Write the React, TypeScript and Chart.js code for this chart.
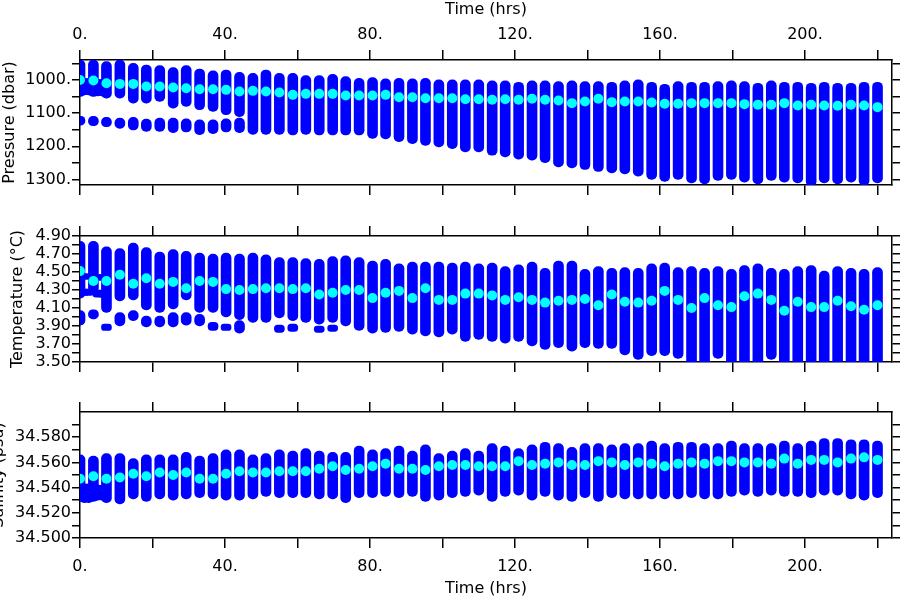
import React, { useEffect, useRef } from "react";
import { Chart, registerables } from "chart.js";

Chart.register(...registerables);

const FONT = "'DejaVu Sans', sans-serif";
const BLUE = "#0000ff";
const CYAN = "#00ffff";

// ---- time axis (hours) ----
const times = [
  0, 3.7, 7.3, 11, 14.7, 18.3, 22, 25.7, 29.3, 33,
  36.7, 40.3, 44, 47.7, 51.3, 55, 58.7, 62.3, 66, 69.7,
  73.3, 77, 80.7, 84.3, 88, 91.7, 95.3, 99, 102.7, 106.3,
  110, 113.7, 117.3, 121, 124.7, 128.3, 132, 135.7, 139.3, 143,
  146.7, 150.3, 154, 157.7, 161.3, 165, 168.7, 172.3, 176, 179.7,
  183.3, 187, 190.7, 194.3, 198, 201.7, 205.3, 209, 212.7, 216.3, 220,
];
const earlyTimes = [1.2, 2.4, 4.9, 6.1];
const timeTicks = [0, 20, 40, 60, 80, 100, 120, 140, 160, 180, 200, 220];
const timeLabels = [0, 40, 80, 120, 160, 200];

// ---- pressure (dbar) ----
const pressureShallow = [
  940, 940, 945, 940, 950, 955, 957, 963, 957, 967,
  973, 970, 977, 980, 970, 980, 980, 987, 987, 983,
  990, 995, 993, 997, 995, 997, 995, 1000, 1000, 1000,
  1000, 1003, 1003, 1007, 1003, 1003, 1005, 1003, 1005, 1005,
  1007, 1003, 1000, 1007, 1013, 1005, 1007, 1007, 1005, 1003,
  1005, 1010, 1003, 1007, 1007, 1010, 1007, 1010, 1010, 1007, 1007,
];
const pressureDeep = [
  1050, 1050, 1055, 1055, 1070, 1070, 1065, 1085, 1080, 1090,
  1095, 1105, 1111, 1164, 1164, 1164, 1166, 1164, 1166, 1166,
  1166, 1166, 1176, 1178, 1186, 1192, 1197, 1202, 1207, 1217,
  1217, 1227, 1232, 1239, 1242, 1249, 1262, 1265, 1270, 1276,
  1280, 1283, 1290, 1300, 1306, 1300, 1310, 1313, 1303, 1300,
  1308, 1313, 1303, 1308, 1310, 1320, 1310, 1313, 1308, 1318, 1310,
];
const pressureMean = [
  1000, 1002, 1010, 1012, 1012, 1020, 1020, 1023, 1025, 1028,
  1028, 1030, 1035, 1033, 1035, 1038, 1045, 1042, 1042, 1042,
  1047, 1047, 1047, 1045, 1052, 1052, 1055, 1055, 1055, 1058,
  1058, 1060, 1058, 1060, 1057, 1060, 1062, 1070, 1065, 1057,
  1067, 1065, 1065, 1068, 1072, 1072, 1070, 1070, 1070, 1070,
  1073, 1075, 1075, 1070, 1077, 1075, 1077, 1078, 1075, 1077, 1082,
];
// isolated deep samples of the first profiles
const pressureGapShallow = [1110, 1110, 1113, 1115, 1113, 1118, 1115, 1115, 1117, 1120, 1120, 1117, 1115];
const pressureGapDeep = [1136, 1138, 1141, 1146, 1151, 1155, 1155, 1159, 1157, 1165, 1162, 1157, 1159];
const pressureEarlyLow = [995, 995, 998, 998];
const pressureEarlyHigh = [1045, 1045, 1048, 1048];
const pressureTicks = [950, 1000, 1050, 1100, 1150, 1200, 1250, 1300];
const pressureLabels = [1000, 1100, 1200, 1300];

// ---- temperature (°C) ----
const tempMax = [
  4.84, 4.84, 4.78, 4.76, 4.82, 4.77, 4.72, 4.75, 4.73, 4.71,
  4.70, 4.71, 4.70, 4.71, 4.69, 4.66, 4.66, 4.65, 4.64, 4.67,
  4.68, 4.66, 4.62, 4.64, 4.59, 4.61, 4.61, 4.61, 4.60, 4.61,
  4.59, 4.60, 4.56, 4.58, 4.61, 4.54, 4.62, 4.62, 4.53, 4.56,
  4.54, 4.55, 4.54, 4.59, 4.60, 4.55, 4.56, 4.54, 4.56, 4.53,
  4.57, 4.59, 4.54, 4.53, 4.56, 4.57, 4.51, 4.56, 4.54, 4.53, 4.55,
];
const tempMin = [
  4.21, 4.27, 4.05, 4.18, 4.19, 4.08, 4.05, 4.09, 4.19, 4.05,
  4.05, 4.00, 3.97, 3.94, 3.94, 3.99, 3.96, 3.94, 3.92, 3.94,
  3.90, 3.85, 3.82, 3.83, 3.84, 3.81, 3.79, 3.78, 3.81, 3.73,
  3.75, 3.73, 3.71, 3.73, 3.68, 3.64, 3.66, 3.62, 3.66, 3.65,
  3.65, 3.58, 3.53, 3.57, 3.57, 3.54, 3.45, 3.45, 3.54, 3.45,
  3.45, 3.45, 3.53, 3.45, 3.45, 3.45, 3.45, 3.45, 3.45, 3.45, 3.45,
];
const tempMean = [
  4.51, 4.40, 4.40, 4.47, 4.37, 4.43, 4.37, 4.39, 4.32, 4.40,
  4.39, 4.31, 4.30, 4.31, 4.32, 4.32, 4.31, 4.32, 4.25, 4.27,
  4.30, 4.30, 4.21, 4.27, 4.29, 4.21, 4.32, 4.19, 4.19, 4.26,
  4.26, 4.24, 4.19, 4.22, 4.19, 4.16, 4.18, 4.19, 4.20, 4.13,
  4.25, 4.17, 4.16, 4.18, 4.29, 4.19, 4.10, 4.21, 4.13, 4.11,
  4.23, 4.26, 4.19, 4.07, 4.17, 4.11, 4.11, 4.18, 4.12, 4.08, 4.13,
];
const tempGapHigh = [4.07, 4.08, 3.92, 4.05, 4.07, 4.01, 4.01, 4.05, 4.05, 4.03, 3.94, 3.92, 3.96, null, null, 3.91, 3.92, null, 3.90, 3.91];
const tempGapLow = [3.91, 3.98, 3.85, 3.90, 3.96, 3.89, 3.89, 3.89, 3.91, 3.90, 3.85, 3.85, 3.82, null, null, 3.83, 3.84, null, 3.83, 3.84];
const tempEarlyUpperLow = [4.42, 4.42, 4.41, 4.41];
const tempEarlyUpperHigh = [4.48, 4.48, 4.47, 4.47];
const tempEarlyLowerLow = [4.24, 4.24, 4.22, 4.22];
const tempEarlyLowerHigh = [4.31, 4.31, 4.30, 4.30];
const tempTicks = [3.5, 3.6, 3.7, 3.8, 3.9, 4.0, 4.1, 4.2, 4.3, 4.4, 4.5, 4.6, 4.7, 4.8, 4.9];
const tempLabels = [3.5, 3.7, 3.9, 4.1, 4.3, 4.5, 4.7, 4.9];

// ---- salinity (psu) ----
const salMax = [
  34.566, 34.565, 34.567, 34.567, 34.563, 34.566, 34.566, 34.566, 34.568, 34.565,
  34.567, 34.570, 34.570, 34.566, 34.567, 34.570, 34.569, 34.571, 34.569, 34.568,
  34.568, 34.573, 34.570, 34.571, 34.573, 34.569, 34.574, 34.567, 34.569, 34.571,
  34.569, 34.575, 34.573, 34.571, 34.574, 34.576, 34.575, 34.572, 34.575, 34.575,
  34.574, 34.575, 34.575, 34.577, 34.575, 34.576, 34.576, 34.575, 34.575, 34.577,
  34.575, 34.575, 34.575, 34.577, 34.575, 34.577, 34.579, 34.579, 34.578, 34.578, 34.577,
];
const salMin = [
  34.529, 34.529, 34.528, 34.527, 34.531, 34.529, 34.531, 34.530, 34.531, 34.532,
  34.531, 34.530, 34.530, 34.531, 34.533, 34.532, 34.532, 34.532, 34.531, 34.531,
  34.528, 34.532, 34.532, 34.533, 34.532, 34.533, 34.529, 34.530, 34.532, 34.533,
  34.534, 34.529, 34.533, 34.534, 34.530, 34.533, 34.530, 34.529, 34.532, 34.529,
  34.532, 34.531, 34.531, 34.531, 34.531, 34.531, 34.532, 34.531, 34.531, 34.533,
  34.534, 34.533, 34.534, 34.533, 34.533, 34.532, 34.534, 34.534, 34.531, 34.530, 34.532,
];
const salMean = [
  34.547, 34.549, 34.547, 34.548, 34.551, 34.549, 34.552, 34.550, 34.552, 34.547,
  34.547, 34.551, 34.553, 34.552, 34.552, 34.553, 34.553, 34.553, 34.555, 34.557,
  34.554, 34.555, 34.557, 34.559, 34.555, 34.555, 34.554, 34.557, 34.558, 34.558,
  34.557, 34.557, 34.557, 34.561, 34.558, 34.559, 34.560, 34.558, 34.558, 34.561,
  34.560, 34.558, 34.560, 34.559, 34.557, 34.559, 34.560, 34.559, 34.561, 34.561,
  34.560, 34.560, 34.559, 34.563, 34.559, 34.562, 34.562, 34.560, 34.563, 34.564, 34.562,
];
const salEarlyLow = [34.528, 34.528, 34.530, 34.530];
const salEarlyHigh = [34.543, 34.543, 34.542, 34.542];
const salTicks = [34.5, 34.51, 34.52, 34.53, 34.54, 34.55, 34.56, 34.57, 34.58, 34.59];
const salLabels = [34.5, 34.52, 34.54, 34.56, 34.58];

// ---- layout (pixels) ----
const W = 900;
const H = 600;
const PLOT_LEFT = 80;
const PLOT_RIGHT = 892;
const X_MAX = 224;

type Num = number | null;
interface PanelSpec {
  top: number;
  bottom: number;
  min: number;
  max: number;
  reverse: boolean;
  yTicks: number[];
  yLabels: number[];
  fmt: (v: number) => string;
  title: string;
  titleShift: number;
  topAxisText: boolean;
  bottomAxisText: boolean;
  lo: number[];
  hi: number[];
  mean: number[];
  gaps: { lo: Num[]; hi: Num[] }[];
  early: { lo: number[]; hi: number[] }[];
}

const panels: PanelSpec[] = [
  {
    top: 60, bottom: 185, min: 940, max: 1316.6, reverse: true,
    yTicks: pressureTicks, yLabels: pressureLabels, fmt: (v) => `${Math.round(v)}.`,
    title: "Pressure (dbar)", titleShift: 0, topAxisText: true, bottomAxisText: false,
    lo: pressureShallow, hi: pressureDeep, mean: pressureMean,
    gaps: [{ lo: pressureGapShallow, hi: pressureGapDeep }],
    early: [{ lo: pressureEarlyLow, hi: pressureEarlyHigh }],
  },
  {
    top: 236, bottom: 362, min: 3.5, max: 4.9, reverse: false,
    yTicks: tempTicks, yLabels: tempLabels, fmt: (v) => v.toFixed(2),
    title: "Temperature (°C)", titleShift: 8, topAxisText: false, bottomAxisText: false,
    lo: tempMin, hi: tempMax, mean: tempMean,
    gaps: [{ lo: tempGapLow, hi: tempGapHigh }],
    early: [
      { lo: tempEarlyUpperLow, hi: tempEarlyUpperHigh },
      { lo: tempEarlyLowerLow, hi: tempEarlyLowerHigh },
    ],
  },
  {
    top: 412, bottom: 538, min: 34.5, max: 34.6, reverse: false,
    yTicks: salTicks, yLabels: salLabels, fmt: (v) => v.toFixed(3),
    title: "Salinity (psu)", titleShift: -11, topAxisText: false, bottomAxisText: true,
    lo: salMin, hi: salMax, mean: salMean,
    gaps: [],
    early: [{ lo: salEarlyLow, hi: salEarlyHigh }],
  },
];

const inList = (arr: number[], v: number) => arr.some((a) => Math.abs(a - v) < 1e-6);
const font = { family: FONT, size: 16 };

function makeConfig(p: PanelSpec): any {
  const grid = {
    display: true,
    drawOnChartArea: false,
    drawTicks: true,
    color: "#000",
    lineWidth: 1.5,
    offset: false,
  };
  const border = { display: true, color: "#000", width: 1.5 };

  const xAxis = (position: "top" | "bottom", showText: boolean, size: number) => ({
    type: "linear",
    position,
    min: 0,
    max: X_MAX,
    offset: false,
    afterFit: (s: any) => {
      s.height = size;
    },
    afterBuildTicks: (s: any) => {
      s.ticks = timeTicks.map((v) => ({ value: v }));
    },
    ticks: {
      autoSkip: false,
      maxRotation: 0,
      minRotation: 0,
      padding: position === "top" ? 6 : 9,
      color: "#000",
      font,
      callback: (v: number) => (showText && inList(timeLabels, v) ? `${v}.` : ""),
    },
    grid: { ...grid, tickLength: 10 },
    border,
    title: {
      display: showText,
      text: "Time (hrs)",
      color: "#000",
      font,
      padding: { top: 0, bottom: 2 },
    },
  });

  const yCommon = {
    type: "linear",
    min: p.min,
    max: p.max,
    reverse: p.reverse,
    afterBuildTicks: (s: any) => {
      s.ticks = p.yTicks.map((v) => ({ value: v }));
    },
    border,
  };

  const bar = {
    type: "bar",
    backgroundColor: BLUE,
    borderColor: BLUE,
    borderWidth: 0,
    barThickness: 10,
    borderRadius: 5,
    borderSkipped: false,
    grouped: false,
    xAxisID: "x",
    yAxisID: "y",
    clip: 0,
    order: 2,
  };

  const rangePts = times.map((t, i) => ({ x: t, y: [p.lo[i], p.hi[i]] }));
  const gapPts: any[] = [];
  p.gaps.forEach((g) => {
    g.lo.forEach((lo, i) => {
      const hi = g.hi[i];
      if (lo != null && hi != null) gapPts.push({ x: times[i], y: [lo, hi] });
    });
  });
  const earlyPts: any[] = [];
  p.early.forEach((e) => {
    earlyTimes.forEach((t, i) => earlyPts.push({ x: t, y: [e.lo[i], e.hi[i]] }));
  });
  const meanPts = times.map((t, i) => ({ x: t, y: p.mean[i] }));

  return {
    type: "bar",
    data: {
      datasets: [
        {
          type: "scatter",
          data: meanPts,
          backgroundColor: CYAN,
          borderColor: CYAN,
          pointRadius: 5,
          pointBorderWidth: 0,
          xAxisID: "x",
          yAxisID: "y",
          clip: 0,
          order: 0,
        },
        { ...bar, data: rangePts },
        { ...bar, data: gapPts },
        { ...bar, data: earlyPts },
      ],
    },
    options: {
      responsive: false,
      maintainAspectRatio: false,
      devicePixelRatio: 1,
      animation: false,
      events: [],
      layout: { padding: 0 },
      plugins: { legend: { display: false }, tooltip: { enabled: false } },
      scales: {
        x2: xAxis("top", p.topAxisText, p.top),
        x: xAxis("bottom", p.bottomAxisText, H - p.bottom),
        y: {
          ...yCommon,
          position: "left",
          afterFit: (s: any) => {
            s.width = PLOT_LEFT;
          },
          ticks: {
            autoSkip: false,
            padding: 1,
            color: "#000",
            font,
            callback: (v: number) => (inList(p.yLabels, v) ? p.fmt(v) : ""),
          },
          grid: { ...grid, tickLength: 8 },
          title: {
            display: true,
            text: p.title,
            color: "#000",
            font,
            padding: { top: p.titleShift, bottom: 0 },
          },
        },
        y2: {
          ...yCommon,
          position: "right",
          afterFit: (s: any) => {
            s.width = W - PLOT_RIGHT;
          },
          ticks: { display: false },
          grid: { ...grid, tickLength: 8 },
        },
      },
    },
  };
}

function PanelChart({ spec }: { spec: PanelSpec }) {
  const ref = useRef<HTMLCanvasElement>(null);
  useEffect(() => {
    if (!ref.current) return;
    const chart = new Chart(ref.current, makeConfig(spec));
    return () => chart.destroy();
  }, [spec]);
  return (
    <canvas
      ref={ref}
      width={W}
      height={H}
      style={{ position: "absolute", left: 0, top: 0, width: W, height: H }}
    />
  );
}

export default function App() {
  return (
    <div
      style={{
        position: "fixed",
        left: 0,
        top: 0,
        width: W,
        height: H,
        background: "#fff",
        overflow: "hidden",
      }}
    >
      {panels.map((p, i) => (
        <PanelChart key={i} spec={p} />
      ))}
    </div>
  );
}
